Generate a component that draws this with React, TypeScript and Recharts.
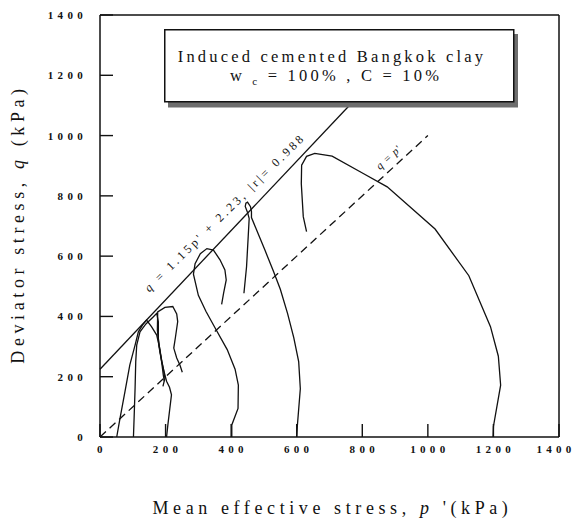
import React from 'react';
import { ComposedChart, Line, XAxis, YAxis, ReferenceDot, Label } from 'recharts';

// axis ticks (kPa)
const pTicks = [0, 200, 400, 600, 800, 1000, 1200, 1400];
const qTicks = [0, 200, 400, 600, 800, 1000, 1200, 1400];

// effective stress paths, p' and q in kPa
const path50 = [
  { p: 51, q: 0 }, { p: 61, q: 62 }, { p: 76, q: 150 }, { p: 91, q: 239 }, { p: 107, q: 305 },
  { p: 117, q: 349 }, { p: 130, q: 372 }, { p: 142, q: 388 }, { p: 157, q: 366 }, { p: 173, q: 338 },
  { p: 183, q: 290 }, { p: 188, q: 250 }, { p: 193, q: 206 }, { p: 196, q: 185 },
];
const path100 = [
  { p: 102, q: 0 }, { p: 104, q: 62 }, { p: 107, q: 162 }, { p: 109, q: 250 }, { p: 112, q: 305 },
  { p: 122, q: 349 }, { p: 140, q: 375 }, { p: 163, q: 399 }, { p: 173, q: 410 }, { p: 178, q: 382 },
  { p: 178, q: 327 }, { p: 183, q: 283 }, { p: 193, q: 228 }, { p: 198, q: 195 }, { p: 192, q: 168 },
];
const path200 = [
  { p: 203, q: 0 }, { p: 207, q: 40 }, { p: 213, q: 95 }, { p: 218, q: 140 }, { p: 212, q: 165 },
  { p: 203, q: 185 }, { p: 197, q: 210 }, { p: 188, q: 250 }, { p: 180, q: 300 }, { p: 175, q: 355 },
  { p: 176, q: 415 }, { p: 198, q: 430 }, { p: 222, q: 433 }, { p: 234, q: 408 }, { p: 237, q: 383 },
  { p: 230, q: 330 }, { p: 225, q: 295 }, { p: 234, q: 262 }, { p: 244, q: 238 }, { p: 251, q: 215 },
];
const path400 = [
  { p: 402, q: 0 }, { p: 402, q: 40 }, { p: 421, q: 95 }, { p: 422, q: 172 }, { p: 412, q: 225 },
  { p: 388, q: 290 }, { p: 352, q: 360 }, { p: 323, q: 417 }, { p: 300, q: 470 }, { p: 285, q: 540 },
  { p: 290, q: 575 }, { p: 306, q: 608 }, { p: 326, q: 625 }, { p: 346, q: 620 }, { p: 366, q: 588 },
  { p: 381, q: 554 }, { p: 385, q: 521 }, { p: 377, q: 477 }, { p: 371, q: 440 },
];
const path600 = [
  { p: 600, q: 0 }, { p: 602, q: 38 }, { p: 611, q: 160 }, { p: 606, q: 250 }, { p: 591, q: 330 },
  { p: 572, q: 410 }, { p: 550, q: 490 }, { p: 529, q: 550 }, { p: 503, q: 620 }, { p: 478, q: 686 },
  { p: 462, q: 728 }, { p: 462, q: 748 }, { p: 459, q: 764 }, { p: 450, q: 779 }, { p: 445, q: 776 },
  { p: 443, q: 765 }, { p: 450, q: 745 }, { p: 455, q: 725 }, { p: 452, q: 664 }, { p: 447, q: 565 },
  { p: 439, q: 477 },
];
const path1200 = [
  { p: 1199, q: 0 }, { p: 1200, q: 35 }, { p: 1222, q: 172 }, { p: 1215, q: 268 }, { p: 1191, q: 366 },
  { p: 1125, q: 535 }, { p: 1022, q: 690 }, { p: 876, q: 830 }, { p: 803, q: 874 }, { p: 708, q: 932 },
  { p: 655, q: 941 }, { p: 630, q: 931 }, { p: 615, q: 902 }, { p: 614, q: 840 }, { p: 620, q: 731 },
  { p: 630, q: 681 },
];

// failure envelope q = 1.15p' + c and the q = p' line
const failureLine = [{ p: 0, q: 225 }, { p: 780, q: 1122 }];
const unityLine = [{ p: 0, q: 0 }, { p: 1000, q: 1000 }];

const paths = [path50, path100, path200, path400, path600, path1200];

const SERIF = '"Liberation Serif", "Times New Roman", Times, serif';
const TICK_LEN = 13;
const tickFont = { fontFamily: SERIF, fontSize: 11, fontWeight: 700, letterSpacing: 4.3 };
const titleFont = { fontFamily: SERIF, fontSize: 18, letterSpacing: 4.6 };
const noteFont = { fontFamily: SERIF, fontSize: 12, letterSpacing: 3 };

const bottomTick = ({ x, y, payload, index }: any) => (
  <g>
    <line x1={x} y1={y} x2={x} y2={y - TICK_LEN} stroke="#111" strokeWidth={1.4} />
    {/* last label pulled in a little so it stays on the page */}
    <text x={x + (index === pTicks.length - 1 ? -3 : 2)} y={y + 16} textAnchor="middle" fill="#111" style={tickFont}>
      {payload.value}
    </text>
  </g>
);

const leftTick = ({ x, y, payload }: any) => (
  <g>
    <line x1={x} y1={y} x2={x + TICK_LEN} y2={y} stroke="#111" strokeWidth={1.4} />
    <text x={x - 13} y={y + 4} textAnchor="end" fill="#111" style={tickFont}>
      {payload.value}
    </text>
  </g>
);

const topTick = ({ x, y }: any) => (
  <line x1={x} y1={y} x2={x} y2={y + TICK_LEN} stroke="#111" strokeWidth={1.4} />
);

const rightTick = ({ x, y }: any) => (
  <line x1={x} y1={y} x2={x - TICK_LEN} y2={y} stroke="#111" strokeWidth={1.4} />
);

const xTitle = (props: any) => {
  const vb = props.viewBox || { x: 100, y: 437, width: 459 };
  return (
    <text x={vb.x + vb.width / 2 + 3} y={vb.y + 77} textAnchor="middle" fill="#111" style={titleFont}>
      Mean effective stress, <tspan fontStyle="italic">p</tspan> '(kPa)
    </text>
  );
};

const yTitle = (props: any) => {
  const vb = props.viewBox || { x: 0, y: 15, height: 422 };
  return (
    <text
      transform={`translate(${vb.x + 24},${vb.y + vb.height / 2 - 2}) rotate(-90)`}
      textAnchor="middle"
      fill="#111"
      style={titleFont}
    >
      Deviator stress, <tspan fontStyle="italic">q</tspan> (kPa)
    </text>
  );
};

const rotatedNote = (text: React.ReactNode, angle: number, style: any) => (props: any) => {
  const vb = props.viewBox || { x: 0, y: 0, width: 0, height: 0 };
  const cx = vb.x + (vb.width || 0) / 2;
  const cy = vb.y + (vb.height || 0) / 2;
  return (
    <text
      transform={`translate(${cx},${cy}) rotate(${angle})`}
      textAnchor="middle"
      dominantBaseline="central"
      fill="#111"
      style={style}
    >
      {text}
    </text>
  );
};

export default function App() {
  return (
    <div style={{ position: 'absolute', left: 0, top: 0, width: 576, height: 525, background: '#fff' }}>
      <ComposedChart width={576} height={525} margin={{ top: 0, right: 0, bottom: 0, left: 0 }}>
        <XAxis
          xAxisId="b"
          dataKey="p"
          type="number"
          domain={[0, 1400]}
          ticks={pTicks}
          interval={0}
          height={88}
          tickSize={0}
          tickMargin={0}
          tickLine={false}
          tick={bottomTick}
          axisLine={{ stroke: '#111', strokeWidth: 1.5 }}
        >
          <Label content={xTitle} />
        </XAxis>
        <XAxis
          xAxisId="t"
          orientation="top"
          type="number"
          domain={[0, 1400]}
          ticks={pTicks}
          interval={0}
          height={15}
          tickSize={0}
          tickMargin={0}
          tickLine={false}
          tick={topTick}
          axisLine={{ stroke: '#111', strokeWidth: 1.5 }}
        />
        <YAxis
          yAxisId="l"
          type="number"
          domain={[0, 1400]}
          ticks={qTicks}
          interval={0}
          width={100}
          tickSize={0}
          tickMargin={0}
          tickLine={false}
          tick={leftTick}
          axisLine={{ stroke: '#111', strokeWidth: 1.5 }}
        >
          <Label content={yTitle} />
        </YAxis>
        <YAxis
          yAxisId="r"
          orientation="right"
          type="number"
          domain={[0, 1400]}
          ticks={qTicks}
          interval={0}
          width={17}
          tickSize={0}
          tickMargin={0}
          tickLine={false}
          tick={rightTick}
          axisLine={{ stroke: '#111', strokeWidth: 1.5 }}
        />

        <Line
          xAxisId="b"
          yAxisId="l"
          data={unityLine}
          dataKey="q"
          type="linear"
          dot={false}
          stroke="#111"
          strokeWidth={1.3}
          strokeDasharray="8 5"
          isAnimationActive={false}
        />
        <Line
          xAxisId="b"
          yAxisId="l"
          data={failureLine}
          dataKey="q"
          type="linear"
          dot={false}
          stroke="#111"
          strokeWidth={1.3}
          isAnimationActive={false}
        />
        {paths.map((d, i) => (
          <Line
            key={i}
            xAxisId="b"
            yAxisId="l"
            data={d}
            dataKey="q"
            type="linear"
            dot={false}
            stroke="#111"
            strokeWidth={1.3}
            isAnimationActive={false}
          />
        ))}

        <ReferenceDot
          xAxisId="b"
          yAxisId="l"
          x={381}
          y={745}
          r={0}
          fill="none"
          stroke="none"
          label={rotatedNote(
            <>
              <tspan fontStyle="italic">q</tspan> = 1.15p' + 2.23, |r|= 0.988
            </>,
            -44.5,
            noteFont
          )}
        />
        <ReferenceDot
          xAxisId="b"
          yAxisId="l"
          x={880}
          y={929}
          r={0}
          fill="none"
          stroke="none"
          label={rotatedNote(
            <>
              <tspan fontStyle="italic">q</tspan> = <tspan fontStyle="italic">p</tspan>'
            </>,
            -42.6,
            { fontFamily: SERIF, fontSize: 11, letterSpacing: 1 }
          )}
        />
      </ComposedChart>

      {/* legend box */}
      <svg width={576} height={525} style={{ position: 'absolute', left: 0, top: 0, pointerEvents: 'none' }}>
        <rect x={168} y={34} width={350} height={73.5} fill="#6e6e6e" />
        <rect x={164.75} y={29.75} width={349} height={72} fill="#fff" stroke="#111" strokeWidth={1.5} />
        <text x={332} y={62} textAnchor="middle" fill="#111" style={{ fontFamily: SERIF, fontSize: 16.5, letterSpacing: 3.2 }}>
          Induced cemented Bangkok clay
        </text>
        <text x={336} y={81} textAnchor="middle" fill="#111" style={{ fontFamily: SERIF, fontSize: 16.5, letterSpacing: 3.2 }}>
          w <tspan fontSize={11} dy={4}>c</tspan>
          <tspan dy={-4}> = 100% , C = 10%</tspan>
        </text>
      </svg>
    </div>
  );
}
